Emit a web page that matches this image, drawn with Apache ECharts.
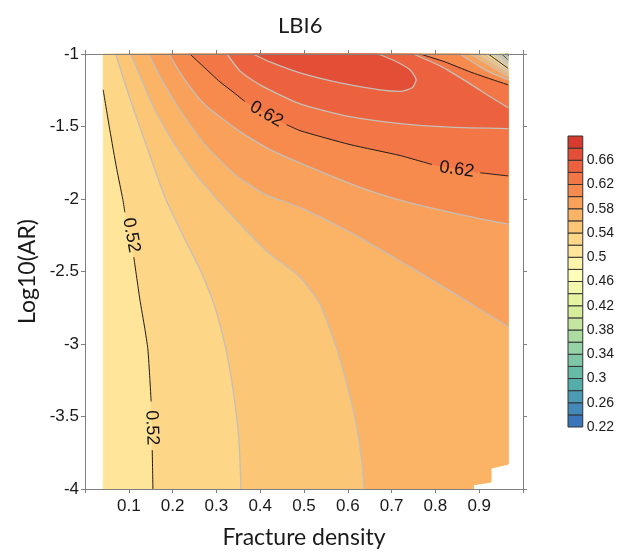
<!DOCTYPE html>
<html><head><meta charset="utf-8">
<script src="https://cdn.jsdelivr.net/npm/echarts@6/dist/echarts.min.js"></script>
<style>html,body{margin:0;padding:0;background:#fff}#c{width:617px;height:554px}</style>
</head><body><div id="c"></div>
<script>
// ---- colour scale (band lower bounds and colours) ----
const bandLows = [0.22,0.24,0.26,0.28,0.30,0.32,0.34,0.36,0.38,0.40,0.42,0.44,0.46,0.48,0.50,0.52,0.54,0.56,0.58,0.60,0.62,0.64,0.66,0.68];
const bandColors = ['#3b76bb','#4389ba','#4b9cb2','#55adaa','#66bba7','#7dc7a6','#95d2a5','#addca3','#c3e5a0','#d6ee9c','#e6f4a1','#f2f9ad','#fcfcbb','#fef3ab','#fee59a','#fdd688','#fcc677','#fbb366','#f9a05a','#f78b4e','#f37646','#ec623f','#e24e36','#d83b2d'];
const colorbarTicks = [0.22,0.26,0.30,0.34,0.38,0.42,0.46,0.50,0.54,0.58,0.62,0.66];

// ---- data domain (fracture density, log10 AR) ----
const dataBoundary = [[0.0415,-1],[0.9663,-1],[0.9663,-3.828],[0.9268,-3.856],[0.9268,-3.952],[0.887,-3.970],[0.887,-4],[0.0415,-4]];
const notchPath = [[0.887,-4],[0.887,-3.970],[0.9268,-3.952],[0.9268,-3.856],[0.9663,-3.828]];

// ---- contour lines (null = gap for a label) ----
const line052 = [[0.0415,-1.247],[0.0566,-1.522],[0.0726,-1.796],[0.0863,-2.002],[0.091,-2.0915],null,[0.1114,-2.400],[0.1251,-2.689],[0.1366,-2.895],[0.1434,-3.032],[0.148,-3.238],[0.151,-3.396],null,[0.1535,-3.732],[0.1545,-3.89],[0.155,-4]];
const line054 = [[0.0703,-1],[0.0886,-1.1785],[0.1114,-1.3844],[0.1434,-1.659],[0.1846,-2.0023],[0.228,-2.2769],[0.2623,-2.4828],[0.2943,-2.7231],[0.3217,-3.032],[0.3377,-3.3066],[0.3491,-3.5812],[0.3537,-3.7872],[0.356,-4]];
const line056 = [[0.1046,-1],[0.1297,-1.1785],[0.1594,-1.3844],[0.2051,-1.6247],[0.2623,-1.865],[0.308,-2.0229],[0.3651,-2.2082],[0.4223,-2.3798],[0.4909,-2.5377],[0.5366,-2.7231],[0.575,-3.032],[0.6006,-3.3066],[0.6211,-3.5812],[0.6326,-3.8215],[0.6371,-4]];
const line058 = [[0.1457,-1],[0.1754,-1.1785],[0.2166,-1.3844],[0.2737,-1.6247],[0.3423,-1.8306],[0.4109,-1.968],[0.4909,-2.0572],[0.6051,-2.2288],[0.7194,-2.4279],[0.8337,-2.6338],[0.9663,-2.881]];
const line060 = [[0.1914,-1],[0.228,-1.1785],[0.2737,-1.3501],[0.3537,-1.5355],[0.4223,-1.659],[0.5366,-1.8101],[0.628,-1.9199],[0.7126,-2.0023],[0.8337,-2.0915],[0.9663,-2.1739]];
const line062 = [[0.2394,-1],[0.2737,-1.0961],[0.308,-1.1922],[0.3377,-1.2609],[0.3651,-1.3275],null,[0.4605,-1.4874],[0.4909,-1.5286],[0.6051,-1.6247],[0.7194,-1.7002],[0.7919,-1.762],null,[0.9023,-1.819],[0.9663,-1.841]];
const line064 = [[0.324,-1],[0.3537,-1.1167],[0.3994,-1.2128],[0.4909,-1.3432],[0.6051,-1.4325],[0.7194,-1.4805],[0.8337,-1.5046],[0.9663,-1.5149]];
const line066 = [[0.3834,-1],[0.4223,-1.0549],[0.4909,-1.1304],[0.5823,-1.1991],[0.6737,-1.2471],[0.7194,-1.2574],[0.7469,-1.2334],[0.756,-1.1785],[0.7423,-1.1098],[0.708,-1.0481],[0.6691,-1]];
const branch064 = [[0.7491,-1],[0.8109,-1.0824],[0.8794,-1.2059],[0.9251,-1.2952],[0.9663,-1.3707]];
const branch062 = [[0.7651,-1],[0.8223,-1.0549],[0.8794,-1.1236],[0.9251,-1.1716],[0.9663,-1.2128]];
const cornerLevels = [0.60,0.58,0.56,0.54,0.52,0.50,0.48,0.46,0.44,0.42,0.40,0.38,0.36,0.34,0.32];
const cornerLines = [
  [[0.8566,-1],[0.9137,-1.1098],[0.9663,-1.1785]],
  [[0.8794,-1],[0.9251,-1.0824],[0.9663,-1.1545]],
  [[0.8954,-1],[0.9663,-1.1339]],
  [[0.9091,-1],[0.9663,-1.1167]],
  [[0.9206,-1],[0.9663,-1.0995]],
  [[0.9297,-1],[0.9663,-1.0858]],
  [[0.9366,-1],[0.9663,-1.0721]],
  [[0.9423,-1],[0.9663,-1.0618]],
  [[0.9469,-1],[0.9663,-1.0515]],
  [[0.9514,-1],[0.9663,-1.0412]],
  [[0.9549,-1],[0.9663,-1.0343]],
  [[0.9579,-1],[0.9663,-1.0275]],
  [[0.9601,-1],[0.9663,-1.0206]],
  [[0.9622,-1],[0.9663,-1.0151]],
  [[0.964,-1],[0.9663,-1.0103]]
];
const mainLevels = [0.52,0.54,0.56,0.58,0.60,0.62,0.64];
const mainLines = [line052,line054,line056,line058,line060,line062,line064];
// contour labels: x, y, text, angle (deg, ccw positive)
const contourLabels = [[0.1057,-2.2494,'0.52',-80],[0.1526,-3.5778,'0.52',-88],[0.4143,-1.4153,'0.62',-30],[0.8486,-1.7963,'0.62',-8]];

// ---- build ----
const XR = 0.9663;
function bandColor(lo){ return bandColors[Math.round((lo-0.22)/0.02)]; }
function segs(line){ const out=[]; let cur=[]; line.forEach(p=>{ if(p){cur.push(p);} else { if(cur.length) out.push(cur); cur=[]; } }); if(cur.length) out.push(cur); return out; }
function superRegion(main, corner){
  const pts = main.filter(Boolean);
  const poly = pts.slice();
  const last = pts[pts.length-1];
  if (last[1] <= -3.9999) poly.push(...notchPath);
  poly.push(...corner.slice().reverse());
  if (pts[0][1] < -1.0001) poly.push([pts[0][0], -1]);
  return poly;
}
const regions = [];
regions.push({poly: dataBoundary, color: bandColor(0.50)});
cornerLevels.forEach((c,i)=>{ if (c <= 0.5001) regions.push({poly: cornerLines[i].concat([[XR,-1]]), color: bandColor(c-0.02)}); });
mainLevels.forEach((c,i)=>{
  const corner = c===0.62 ? branch062 : (c===0.64 ? branch064 : cornerLines[cornerLevels.indexOf(c)]);
  regions.push({poly: superRegion(mainLines[i], corner), color: bandColor(c)});
});
regions.push({poly: line066, color: bandColor(0.66)});

const allLines = [];
mainLines.forEach((l,i)=>allLines.push([mainLevels[i], l]));
allLines.push([0.66, line066],[0.64, branch064],[0.62, branch062]);
cornerLines.forEach((l,i)=>allLines.push([cornerLevels[i], l]));

const series = [];
series.push({
  type:'custom', xAxisIndex:0, yAxisIndex:0, silent:true, animation:false, z:1,
  data: regions.map((r,i)=>[i]),
  renderItem:(params, api)=>{
    const r = regions[params.dataIndex];
    return {type:'polygon', shape:{points: r.poly.map(p=>api.coord(p))}, style:{fill:r.color, stroke:r.color, lineWidth:0.6}};
  }
});
allLines.forEach(([lev, line])=>{
  const black = Math.abs(Math.round(lev*100) % 10 - 2) < 0.5;
  segs(line).forEach(seg=>series.push({
    type:'line', xAxisIndex:0, yAxisIndex:0, data: seg, symbol:'none', silent:true, animation:false, z:3,
    smooth: 0.2,
    lineStyle:{color: black ? '#1e1e1e' : '#c6bfb8', width: black ? 1 : 1.3}
  }));
});
series.push({
  type:'custom', xAxisIndex:0, yAxisIndex:0, silent:true, animation:false, z:4,
  data: contourLabels.map((l,i)=>[i]),
  renderItem:(params, api)=>{
    const l = contourLabels[params.dataIndex];
    const p = api.coord([l[0], l[1]]);
    return {type:'text', x:p[0], y:p[1], rotation: l[3]*Math.PI/180,
      style:{text:l[2], font:'18px "Liberation Sans", Arial, sans-serif', fill:'#111', align:'center', verticalAlign:'middle', textAlign:'center', textVerticalAlign:'middle'}};
  }
});
series.push({
  type:'custom', xAxisIndex:2, yAxisIndex:2, silent:true, animation:false, z:2,
  data: bandLows.map((b,i)=>[i]),
  renderItem:(params, api)=>{
    const lo = bandLows[params.dataIndex];
    const p0 = api.coord([0, lo]); const p1 = api.coord([1, lo+0.02]);
    return {type:'rect', shape:{x:p0[0], y:p1[1], width:p1[0]-p0[0], height:p0[1]-p1[1]},
      style:{fill: bandColors[params.dataIndex], stroke:'#333', lineWidth:1}};
  }
});

const axLine = {show:true, onZero:false, lineStyle:{color:'#808080', width:1}};
const axTick = {show:true, inside:false, length:4, lineStyle:{color:'#808080', width:1}};
const tickFont = {fontFamily:'"Liberation Sans", Arial, sans-serif', fontSize:17, color:'#1a1a1a'};
const nameFont = {fontFamily:'Lato, "Noto Sans", sans-serif', fontSize:23, color:'#1a1a1a'};

const option = {
  animation:false,
  backgroundColor:'#fff',
  title:{text:'LBI6', left:273, top:10, textStyle:{fontFamily:'Lato, "Noto Sans", sans-serif', fontSize:22, fontWeight:'normal', color:'#1a1a1a'}},
  grid:[{left:85, top:54, width:438, height:437}, {left:568, top:136, width:19, height:291}],
  xAxis:[
    {gridIndex:0, type:'value', min:0, max:1, interval:0.1, position:'bottom', z:5,
     axisLine:axLine, axisTick:axTick, splitLine:{show:false},
     axisLabel:Object.assign({margin:9, formatter:v=>(v<0.05||v>0.95)?'':String(Math.round(v*10)/10)}, tickFont),
     name:'Fracture density', nameLocation:'middle', nameGap:37, nameTextStyle:nameFont},
    {gridIndex:0, type:'value', min:0, max:1, interval:0.1, position:'top', z:5,
     axisLine:axLine, axisTick:axTick, splitLine:{show:false}, axisLabel:{show:false}},
    {gridIndex:1, type:'value', min:0, max:1, show:false}
  ],
  yAxis:[
    {gridIndex:0, type:'value', min:-4, max:-1, interval:0.5, position:'left', z:5,
     axisLine:axLine, axisTick:axTick, splitLine:{show:false},
     axisLabel:Object.assign({margin:6}, tickFont),
     name:'Log10(AR)', nameLocation:'middle', nameGap:44, nameTextStyle:nameFont},
    {gridIndex:0, type:'value', min:-4, max:-1, interval:0.5, position:'right', z:5,
     axisLine:axLine, axisTick:axTick, splitLine:{show:false}, axisLabel:{show:false}},
    {gridIndex:1, type:'value', min:0.22, max:0.70, position:'right',
     axisLine:{show:false}, axisTick:{show:false}, splitLine:{show:false},
     axisLabel:{show:true, customValues: colorbarTicks, margin:4, fontFamily:'"Liberation Sans", Arial, sans-serif', fontSize:14, color:'#1a1a1a',
       formatter:v=>String(Math.round(v*100)/100)}}
  ],
  series: series
};
const chart = echarts.init(document.getElementById('c'));
chart.setOption(option);
</script>
</body></html>
